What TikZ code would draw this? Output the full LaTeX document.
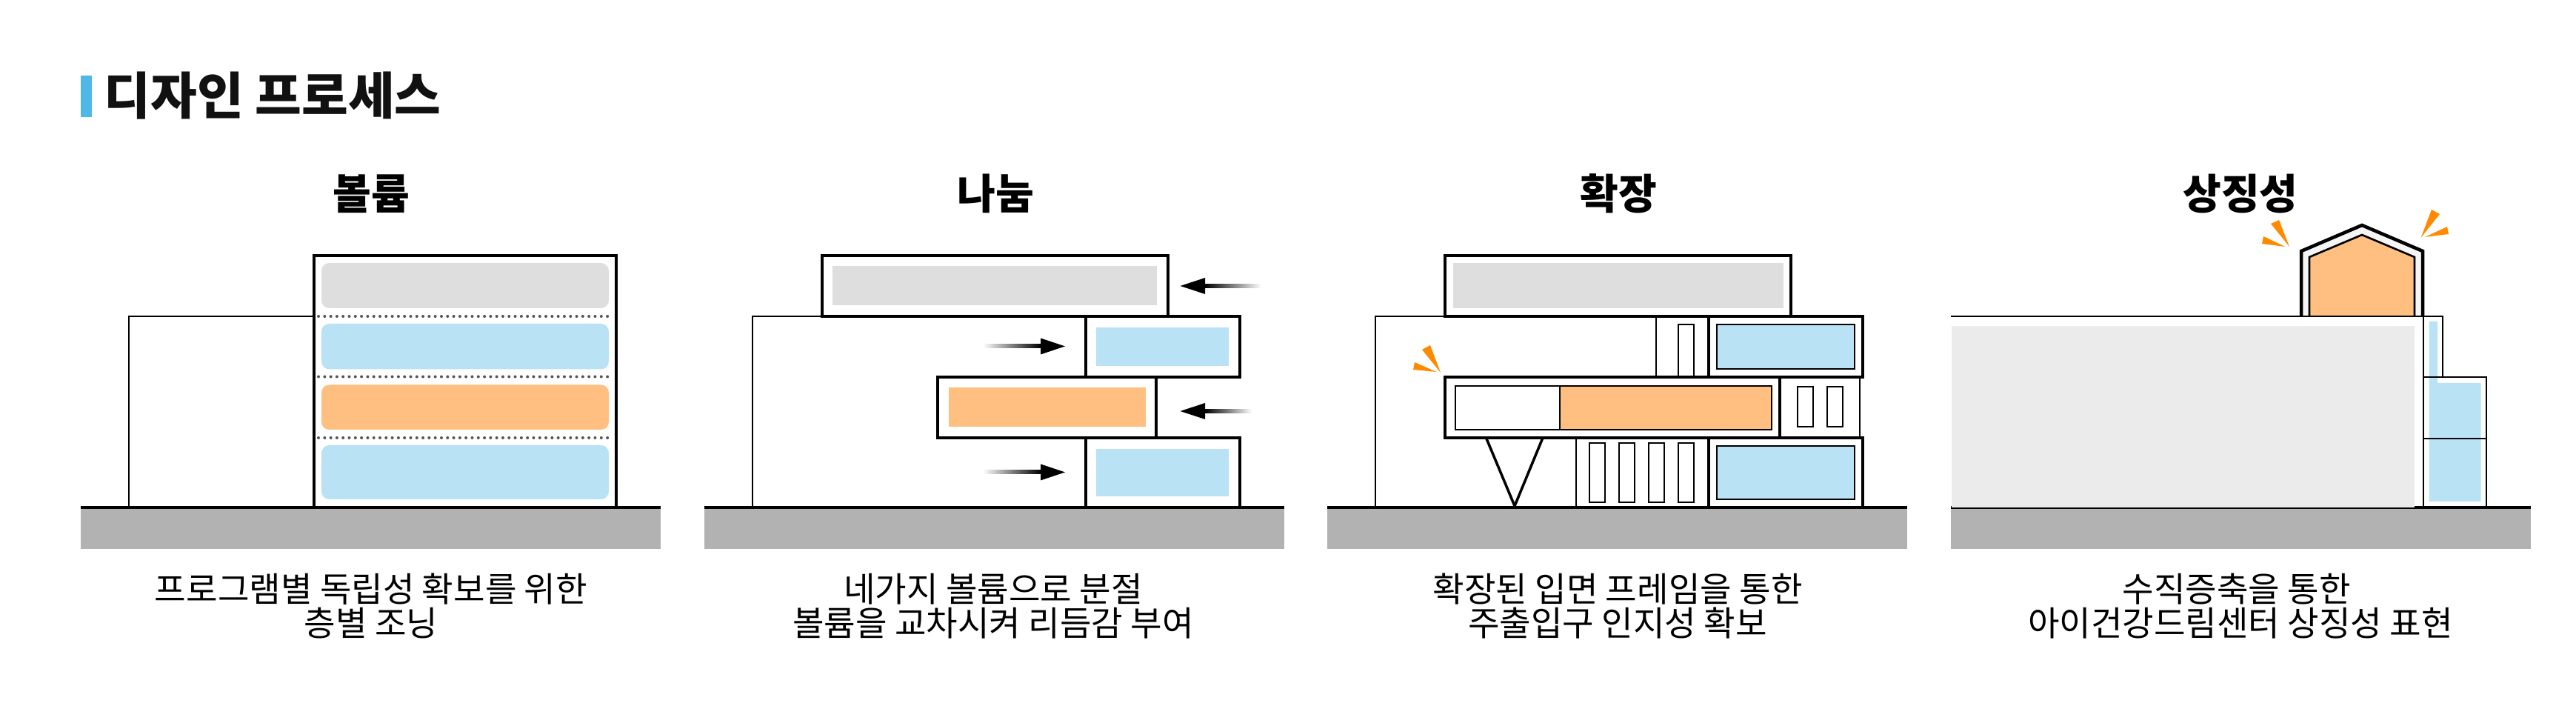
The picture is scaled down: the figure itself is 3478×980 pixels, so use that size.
\documentclass[tikz,border=0pt]{standalone}
\usepackage{fontspec}
\setmainfont{Noto Sans CJK KR}
\definecolor{barblue}{HTML}{50B8E9}
\definecolor{glassblue}{HTML}{B9E2F5}
\definecolor{coreorange}{HTML}{FFBF80}
\definecolor{slabgray}{HTML}{DEDEDE}
\definecolor{massgray}{HTML}{EBEBEB}
\definecolor{roofgray}{HTML}{F5F5F5}
\definecolor{groundgray}{HTML}{B2B2B2}
\definecolor{dotgray}{HTML}{555555}
\definecolor{sparkorange}{HTML}{FF8A00}
\definecolor{inkblack}{HTML}{111111}
\tikzset{
  framebox/.style={draw=black, line width=1.3pt},
  thinbox/.style={draw=black, line width=0.57pt},
  winbox/.style={draw=black, line width=0.75pt},
  floorline/.style={dotgray, line width=1.14pt, line cap=round, dash pattern=on 0pt off 2.36pt},
  pagetitle/.style={anchor=base west, inner sep=0pt, text=inkblack, font=\fontsize{19.4}{22}\selectfont\bfseries},
  headlabel/.style={anchor=base, inner sep=0pt, text=black, font=\fontsize{16}{18}\selectfont\bfseries},
  caplabel/.style={anchor=center, inner sep=0pt, align=center, text=black, font=\fontsize{13.15}{12.95}\selectfont}
}
\begin{document}
\begin{tikzpicture}[x=0.01cm, y=-0.01cm]
  \useasboundingbox (0,0) rectangle (3478,980);

  \fill[barblue] (109,102) rectangle (124,158);
  \node[pagetitle] (pagehead) at (140,155) {디자인 프로세스};
  \node[headlabel] (headvolume) at (501,283) {볼륨};
  \node[headlabel] (headsplit) at (1344,283) {나눔};
  \node[headlabel] (headwide) at (2185,283) {확장};
  \node[headlabel] (headsymbol) at (3025,283) {상징성};
  \node[caplabel] (capvolume) at (501,818) {프로그램별 독립성 확보를 위한\\층별 조닝};
  \node[caplabel] (capsplit) at (1341,818) {네가지 볼륨으로 분절\\볼륨을 교차시켜 리듬감 부여};
  \node[caplabel] (capwide) at (2184,818) {확장된 입면 프레임을 통한\\주출입구 인지성 확보};
  \node[caplabel] (capsymbol) at (3025,818) {수직증축을 통한~~\\아이건강드림센터 상징성 표현};

  \foreach \gx in {109,951,1792,2634} {
    \fill[groundgray] (\gx,685) rectangle ++(783,56);
    \draw[black, line width=1.3pt] (\gx,685) -- ++(783,0);
  }

  \draw[thinbox] (174,685) |- (424,427);
  \draw[framebox] (424,345) rectangle (832,685);
  \fill[slabgray, rounded corners=3pt] (434,355) rectangle (822,416);
  \fill[glassblue, rounded corners=3pt] (434,437) rectangle (822,498.5);
  \fill[coreorange, rounded corners=3pt] (434,519.5) rectangle (822,580);
  \fill[glassblue, rounded corners=3pt] (434,601) rectangle (822,674);
  \foreach \fy in {427,508.5,591} {
    \draw[floorline] (430,\fy) -- (826,\fy);
  }

  \draw[thinbox] (1016,685) |- (1110,427);
  \fill[slabgray] (1124,359) rectangle (1562,412.5);
  \fill[glassblue] (1480,442) rectangle (1659,494);
  \fill[coreorange] (1281,523) rectangle (1547,576);
  \fill[glassblue] (1480,606) rectangle (1659,670);
  \draw[framebox] (1110,345) rectangle (1577,427);
  \draw[framebox] (1466,427) rectangle (1674,509);
  \draw[framebox] (1266,509) rectangle (1561,591);
  \draw[framebox] (1466,591) rectangle (1674,685);
  \foreach \tipx/\tailx/\ay/\bx/\cl/\cr in {1593.5/1703/386/1627/black/white, 1438/1327/467.5/1405/white/black, 1593.5/1690/555/1627/black/white, 1438/1327/637.5/1405/white/black} {
    \shade[left color=\cl, right color=\cr] (\bx,\ay-2.5) rectangle (\tailx,\ay+2.5);
    \fill[black] (\tipx,\ay) -- (\bx,\ay-11) -- (\bx,\ay+11) -- cycle;
  }

  \draw[thinbox] (1857,685) |- (1951,427);
  \draw[thinbox] (2236,427) -- (2236,509);
  \draw[thinbox] (2128,591) -- (2128,685);
  \draw[thinbox] (2403,509) -| (2511,591);
  \fill[slabgray] (1961.5,355) rectangle (2407.5,416.5);
  \draw[winbox, fill=glassblue] (2318,438) rectangle (2504,498);
  \draw[winbox, fill=glassblue] (2318,602) rectangle (2504,674);
  \draw[winbox, fill=coreorange] (2106,521) rectangle (2392,580);
  \draw[winbox] (1965,521) rectangle (2106,580);
  \draw[winbox] (2266,509) |- (2287,438) -- (2287,509);
  \foreach \wx in {2427,2467} {
    \draw[winbox] (\wx,522) rectangle ++(21,54);
  }
  \foreach \wx in {2146,2186,2226,2266} {
    \draw[winbox] (\wx,598) rectangle ++(21,80);
  }
  \draw[framebox] (1951,345) rectangle (2418,427);
  \draw[framebox] (2307,427) rectangle (2515,509);
  \draw[framebox] (1951,509) rectangle (2403,591);
  \draw[framebox] (2307,591) rectangle (2515,685);
  \draw[black, line width=1pt] (2006.5,591) -- (2045,683) -- (2083,591);
  \fill[sparkorange] (1945,503) -- (1920,472) -- (1931,466) -- cycle;
  \fill[sparkorange] (1939.5,502) -- (1910,489) -- (1908,499) -- cycle;

  \fill[massgray] (2635,440) rectangle (3260,685);
  \fill[glassblue] (3279.5,434) -- (3291,434) -- (3291,517) -- (3349.5,517) -- (3349.5,677) -- (3279.5,677) -- cycle;
  \draw[framebox, fill=roofgray] (3107,427) -- (3107,339) -- (3189,304) -- (3271,339) -- (3271,427);
  \draw[winbox, fill=coreorange] (3118,427) -- (3118,347) -- (3189,317) -- (3260,347) -- (3260,427);
  \draw[thinbox] (2634,427) -| (3298,509);
  \draw[thinbox] (3272,427) -- (3272,685);
  \draw[thinbox] (3272,509) -| (3357,685);
  \draw[thinbox] (3272,592) -- (3357,592);
  \fill[sparkorange] (3091,333) -- (3066,302) -- (3077,297) -- cycle;
  \fill[sparkorange] (3085.5,333) -- (3056,319) -- (3054,329) -- cycle;
  \fill[sparkorange] (3268.5,321) -- (3283,283) -- (3294,289) -- cycle;
  \fill[sparkorange] (3274,320) -- (3304,306) -- (3306,316) -- cycle;
\end{tikzpicture}
\end{document}
